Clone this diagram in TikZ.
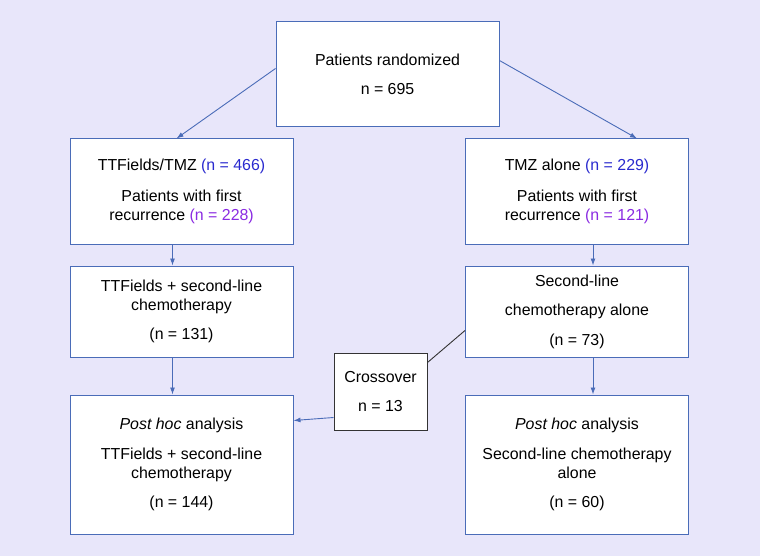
\documentclass[tikz,border=0pt]{standalone}
\usepackage{fontspec}
\setmainfont{Liberation Sans}
\usetikzlibrary{arrows.meta}
\definecolor{bgpanel}{HTML}{E8E6FA}
\definecolor{linkblue}{HTML}{4A6CB8}
\definecolor{nblue}{HTML}{2A2ACF}
\definecolor{npurple}{HTML}{8A2BE2}
\newcommand{\nsep}{\\[10.5pt]}

\begin{document}
\begin{tikzpicture}[x=1pt,y=-1pt,
    every node/.style={font=\fontsize{15.9}{19}\selectfont,align=center,inner sep=0pt},
    box/.style={draw=linkblue,fill=white,line width=1pt,minimum width=223pt},
    link/.style={draw=linkblue,line width=0.9pt,-{Latex[length=7pt,width=5pt]}}
  ]
  \fill[bgpanel] (0,0) rectangle (760,556);

  % boxes
  \node[box,minimum height=105pt] (rand) at (387.5,74.5)
    {Patients randomized\nsep n = 695};
  \node[box,minimum height=105pt] (ttf) at (181.5,191.5)
    {TTFields/TMZ \textcolor{nblue}{(n = 466)}\\[12pt]
     Patients with first\\recurrence \textcolor{npurple}{(n = 228)}};
  \node[box,minimum height=105pt] (tmz) at (577,191.5)
    {TMZ alone \textcolor{nblue}{(n = 229)}\\[12pt]
     Patients with first\\recurrence \textcolor{npurple}{(n = 121)}};
  \node[box,minimum height=91pt] (ttfchemo) at (181.5,311.5)
    {TTFields + second-line\\chemotherapy\nsep (n = 131)};
  \node[box,minimum height=91pt] (chemo) at (577,311.5)
    {Second-line\nsep chemotherapy alone\nsep (n = 73)};
  \node[box,minimum height=139pt] (phttf) at (181.5,464.5)
    {\textit{Post hoc} analysis\nsep TTFields + second-line\\chemotherapy\nsep (n = 144)};
  \node[box,minimum height=139pt] (phchemo) at (577,464.5)
    {\textit{Post hoc} analysis\nsep Second-line chemotherapy\\alone\nsep (n = 60)};
  \node[box,draw=black!80,minimum width=93pt,minimum height=77pt] (cross) at (380.5,391.5)
    {Crossover\nsep n = 13};

  % connectors
  \draw[link] ([yshift=6pt]rand.west) -- ([xshift=-5pt]ttf.north);
  \draw[link] ([yshift=14pt]rand.east) -- ([xshift=60pt]tmz.north);
  \draw[link] ([xshift=-9pt]ttf.south) -- ([xshift=-9pt]ttfchemo.north);
  \draw[link] ([xshift=16pt]tmz.south) -- ([xshift=16pt]chemo.north);
  \draw[link] ([xshift=-9pt]ttfchemo.south) -- ([xshift=-9pt]phttf.north);
  \draw[link] ([xshift=16pt]chemo.south) -- ([xshift=16pt]phchemo.north);
  \draw[black!80,line width=0.9pt] ([yshift=-10pt]cross.north east) -- ([yshift=-19pt]chemo.west);
  \draw[link] ([yshift=-26pt]cross.west) -- ([yshift=44pt]phttf.east);
\end{tikzpicture}
\end{document}
